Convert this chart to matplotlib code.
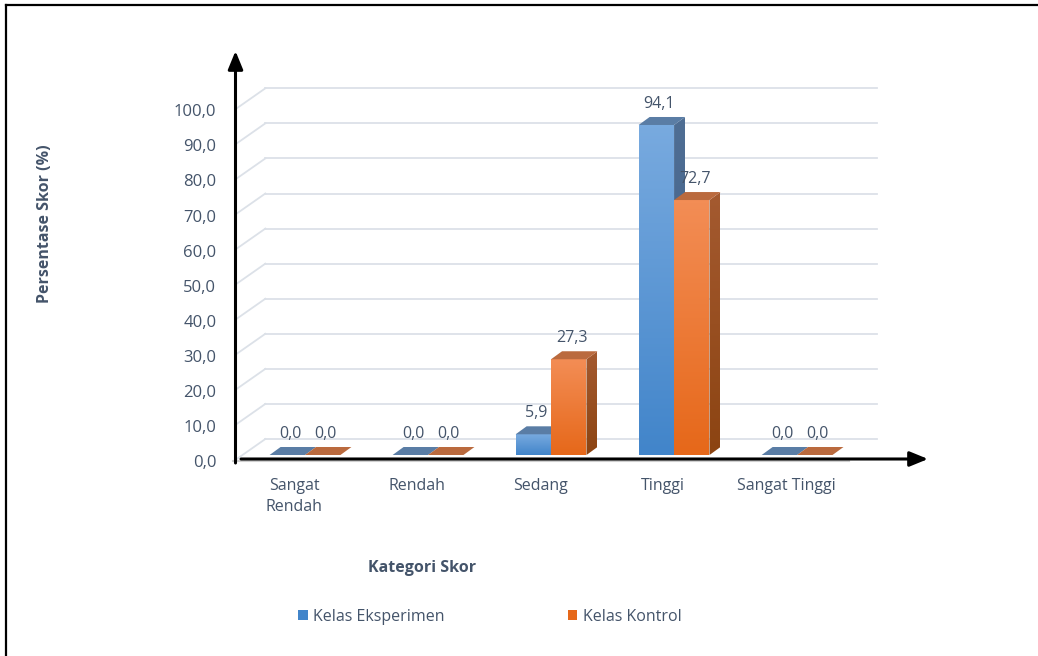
import numpy as np
import matplotlib as mpl
mpl.use("Agg")
import matplotlib.pyplot as plt
from matplotlib.patches import Polygon, Patch
from matplotlib.lines import Line2D
from matplotlib.transforms import ScaledTranslation

plt.rcParams["font.family"] = ["Open Sans", "DejaVu Sans"]
FS = 11.5

# ── Data ──────────────────────────────────────────────────────────────────────
categories = ["Sangat\nRendah", "Rendah", "Sedang", "Tinggi", "Sangat Tinggi"]
eksperimen = [0.0, 0.0, 5.9, 94.1, 0.0]
kontrol = [0.0, 0.0, 27.3, 72.7, 0.0]
series_names = ["Kelas Eksperimen", "Kelas Kontrol"]
y_ticks = [0, 10, 20, 30, 40, 50, 60, 70, 80, 90, 100]

TXT = "#44546A"
GRID = "#DCE1E8"
# (front top, front bottom, top face, side top, side bottom)
BLUE = ("#78AADF", "#4285CA", "#5A7DA5", "#4F6E94", "#3E5F86")
ORANGE = ("#F38D55", "#E6681A", "#BA6A3E", "#A45A30", "#8C4412")

W, H, DPI = 1038, 656, 100
fig = plt.figure(figsize=(W / DPI, H / DPI), dpi=DPI)
ax = fig.add_axes([237.35 / W, (H - 455) / H, 611.4 / W, 350.7 / H])
ax.set_xlim(-0.55, 4.42)
ax.set_ylim(0, 100)
ax.axis("off")

# pixel -> data conversion along each axis
p0 = ax.transData.transform((0, 0))
p1 = ax.transData.transform((1, 1))
ppx, ppy = p1[0] - p0[0], p1[1] - p0[1]
dx = lambda px: px / ppx
dy = lambda px: px / ppy

x0, x1 = ax.get_xlim()

# ── Back wall gridlines and diagonals ────────────────────────────────────────
for v in y_ticks:
    ax.plot([x0 + dx(28), x1 + dx(28)], [v + dy(16), v + dy(16)],
            color=GRID, lw=1.3, clip_on=False, zorder=1)
    ax.plot([x0 - dx(2), x0 + dx(28)], [v - dy(5), v + dy(16)],
            color=GRID, lw=1.3, clip_on=False, zorder=1)

# floor front edge
ax.plot([x0 - dx(4), x1], [-dy(6), -dy(6)], color="#D0D0D0", lw=1.5,
        clip_on=False, zorder=1)


def grad_fill(poly_xy, c_top, c_bot, z):
    patch = Polygon(poly_xy, closed=True, fc="none", ec="none",
                    zorder=z, clip_on=False)
    ax.add_patch(patch)
    xs = [p[0] for p in poly_xy]
    ys = [p[1] for p in poly_xy]
    cmap = mpl.colors.LinearSegmentedColormap.from_list("g", [c_bot, c_top])
    grad = np.linspace(0, 1, 64).reshape(-1, 1)
    im = ax.imshow(grad, extent=[min(xs), max(xs), min(ys), max(ys)],
                   origin="lower", aspect="auto", cmap=cmap, zorder=z,
                   interpolation="bilinear")
    im.set_clip_path(patch)


bw = 0.288
ddx, ddy = dx(11), dy(8)
z = 3
for i in range(len(categories)):
    for k, (vals, col) in enumerate([(eksperimen, BLUE), (kontrol, ORANGE)]):
        h = vals[i]
        left = i - bw if k == 0 else i
        right = left + bw
        if h > 0:
            grad_fill([(left, 0), (right, 0), (right, h), (left, h)],
                      col[0], col[1], z)
            grad_fill([(right, 0), (right + ddx, ddy), (right + ddx, h + ddy),
                       (right, h)], col[3], col[4], z)
        ax.add_patch(Polygon([(left, h), (right, h), (right + ddx, h + ddy),
                              (left + ddx, h + ddy)], closed=True,
                             fc=col[2], ec="none", zorder=z, clip_on=False))
        z += 1
        ax.annotate(f"{h:.1f}".replace(".", ","), xy=(left + bw / 2, h),
                    xytext=(3, 21), textcoords="offset pixels",
                    ha="center", va="center", fontsize=FS, color=TXT,
                    zorder=20)

# ── Tick labels ──────────────────────────────────────────────────────────────
off_y = ax.get_yaxis_transform() + ScaledTranslation(-21 / DPI, -8 / DPI,
                                                      fig.dpi_scale_trans)
for v in y_ticks:
    ax.text(0, v, f"{v:.1f}".replace(".", ","), transform=off_y,
            ha="right", va="center", fontsize=12, color=TXT)

off_x = ax.transData + ScaledTranslation(-11 / DPI, -23 / DPI,
                                         fig.dpi_scale_trans)
for i, c in enumerate(categories):
    ax.text(i, 0, c, transform=off_x, ha="center", va="top",
            fontsize=FS, color=TXT, linespacing=1.4)

# ── Axis arrows ──────────────────────────────────────────────────────────────
ax.annotate("", xy=(928 / W, (H - 459) / H), xytext=(241 / W, (H - 459) / H),
            xycoords="figure fraction", textcoords="figure fraction",
            arrowprops=dict(arrowstyle="-|>,head_length=1.1,head_width=0.45",
                            color="black", lw=2.2, shrinkA=0, shrinkB=0))
ax.annotate("", xy=(235.5 / W, (H - 51) / H), xytext=(235.5 / W, (H - 463) / H),
            xycoords="figure fraction", textcoords="figure fraction",
            arrowprops=dict(arrowstyle="-|>,head_length=1.1,head_width=0.45",
                            color="black", lw=2.2, shrinkA=0, shrinkB=0))

# ── Axis titles ──────────────────────────────────────────────────────────────
fig.text(45 / W, 1 - 224 / H, "Persentase Skor (%)", rotation=90,
         ha="center", va="center", fontsize=FS, fontweight="bold", color=TXT)
fig.text(422 / W, 1 - 568 / H, "Kategori Skor", ha="center", va="center",
         fontsize=FS, fontweight="bold", color=TXT)

# ── Legend ───────────────────────────────────────────────────────────────────
handles = [Patch(fc=BLUE[1], ec="none"), Patch(fc=ORANGE[1], ec="none")]
fig.legend(handles, series_names, loc="center", ncol=2,
           bbox_to_anchor=(490 / W, 1 - 617 / H), frameon=False,
           fontsize=FS, labelcolor=TXT, handlelength=0.6, handleheight=0.6,
           handletextpad=0.35, columnspacing=7.7)

# ── Border ───────────────────────────────────────────────────────────────────
fig.add_artist(Line2D([6 / W, 1], [1 - 5 / H, 1 - 5 / H], color="black", lw=1.6))
fig.add_artist(Line2D([6 / W, 6 / W], [0, 1 - 5 / H], color="black", lw=1.6))

fig.savefig("out.png", dpi=DPI)
